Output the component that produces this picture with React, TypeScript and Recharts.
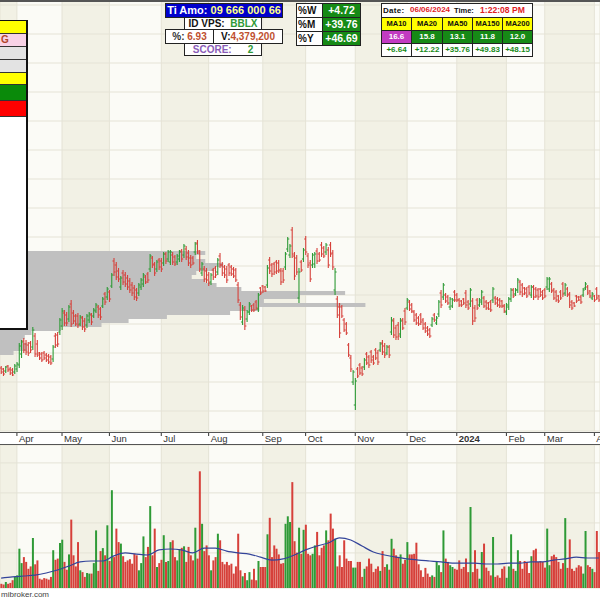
import React from 'react';
import { ComposedChart, Bar, Line, XAxis, YAxis, CartesianGrid, ReferenceArea, Cell } from 'recharts';

const FONT = 'Arial, "Liberation Sans", Helvetica, sans-serif';
const GREEN = '#2E9A36';
const RED = '#D6403A';
const GRID = '#E5E3D6';
const BAND_DARK = '#F2F1E5';
const BAND_LIGHT = '#FBFBF6';

// month ticks (bar index of first session) and labels
const monthIdx = [7, 27, 48, 71, 92, 116, 135, 157, 180, 202, 224, 241, 263];
const monthLabels = ['Apr', 'May', 'Jun', 'Jul', 'Aug', 'Sep', 'Oct', 'Nov', 'Dec', '2024', 'Feb', 'Mar', 'Apr'];

// price grid levels and volume grid levels
const priceGrid = [6.0, 7.45, 8.9, 10.35, 11.8, 13.25, 14.7, 16.15, 17.6, 19.05, 20.5, 21.95, 23.4, 24.85, 26.3];
const volGrid = [1.17, 2.17, 3.17, 4.17];

const highs = [8.25,8.15,8.25,8.30,8.20,8.15,8.35,8.45,9.40,9.55,
9.65,9.55,9.45,9.50,10.20,9.90,9.55,8.95,8.95,9.00,
8.90,8.85,8.80,9.30,9.90,9.95,10.65,11.15,11.05,10.95,
11.30,11.55,11.05,10.85,10.90,10.80,10.75,10.65,10.85,10.95,
10.90,11.15,11.40,11.30,11.20,11.70,11.95,12.20,12.05,12.90,
13.65,13.45,13.15,12.75,13.05,12.95,12.80,12.65,12.45,12.30,
12.15,12.40,12.65,12.90,12.80,12.95,13.85,13.75,13.45,13.55,
13.65,13.65,13.95,13.95,14.05,14.05,13.95,13.80,13.85,14.05,
14.10,14.35,14.25,14.05,13.80,13.75,14.45,14.55,14.05,13.45,
13.25,13.15,12.95,12.90,13.15,13.25,13.65,13.90,13.45,13.30,
13.25,13.40,13.30,13.20,13.15,12.45,11.45,11.30,11.25,11.05,
11.45,11.30,11.40,11.55,11.90,12.20,12.30,12.25,13.30,13.70,
13.40,13.45,13.55,13.55,13.15,13.15,13.95,14.70,14.35,15.20,
13.95,13.80,13.15,13.55,14.15,14.75,13.90,13.55,13.90,13.95,
14.15,13.95,14.45,14.25,14.40,14.20,14.45,14.05,13.15,11.75,
11.40,11.30,10.65,10.45,9.40,8.80,8.05,7.65,8.20,8.40,
8.25,8.65,8.95,8.80,9.05,8.80,9.15,9.05,9.45,9.55,
9.40,9.30,9.30,10.70,10.65,10.30,10.45,10.65,10.65,11.15,
11.65,11.55,11.40,11.05,10.90,10.75,10.90,10.65,10.45,10.25,
10.15,10.70,10.90,10.75,11.55,12.05,12.40,11.90,11.80,11.70,
11.65,12.05,11.90,11.65,11.55,11.65,12.05,11.55,12.15,11.65,
11.30,11.65,11.65,12.05,11.75,11.55,11.45,11.55,12.20,11.75,
11.70,11.65,11.55,11.35,11.40,11.70,12.15,12.15,12.15,12.65,
12.55,12.40,12.20,12.20,12.30,12.30,12.30,12.20,12.15,12.15,
12.05,12.15,12.70,12.70,12.45,12.15,12.05,11.80,12.05,12.45,
12.40,12.20,11.95,11.55,11.45,11.80,11.75,11.80,12.15,12.45,
12.30,12.05,11.95,11.80,12.20,11.80];

const lows = [7.85,7.75,7.90,7.95,7.80,7.75,7.85,7.95,8.15,8.65,
8.90,8.80,8.75,8.90,9.05,8.70,8.70,8.55,8.45,8.55,
8.45,8.35,8.30,8.45,9.15,9.20,9.80,10.05,10.25,10.25,
10.45,10.20,10.35,10.25,10.15,10.25,10.05,9.95,10.15,10.40,
10.30,10.65,10.90,10.65,10.55,11.15,11.30,11.55,11.45,12.15,
12.75,12.55,12.45,12.05,12.30,12.20,12.05,11.90,11.75,11.55,
11.50,11.75,12.05,12.20,12.35,12.40,12.95,13.15,12.75,12.95,
13.05,12.95,13.25,13.35,13.45,13.30,13.30,13.25,13.30,13.45,
13.45,13.65,13.55,13.25,13.15,13.30,13.80,13.85,12.95,12.75,
12.45,12.40,12.25,12.30,12.55,12.65,12.80,13.15,12.75,12.65,
12.40,12.75,12.75,12.65,12.45,11.40,10.55,10.30,10.05,10.45,
10.80,10.95,10.95,11.05,10.95,11.80,11.90,11.95,12.15,12.85,
12.70,12.80,12.85,12.90,12.30,12.40,13.05,13.95,13.65,13.65,
12.55,12.80,11.40,12.95,13.45,13.80,13.15,12.45,13.15,13.15,
13.35,13.45,13.70,13.65,13.80,13.15,13.70,13.05,11.80,10.65,
9.65,10.65,9.95,9.80,8.70,7.95,7.30,6.05,7.65,7.80,
7.75,8.05,8.30,8.15,8.40,8.30,8.55,8.30,8.95,8.80,
8.65,8.80,8.65,9.80,9.65,9.55,9.55,9.65,10.05,10.30,
11.05,11.00,10.90,10.45,10.30,10.25,10.30,10.05,9.90,9.75,
9.65,10.20,10.45,10.30,10.70,11.15,11.55,11.40,11.30,11.05,
11.15,11.45,11.45,11.20,11.20,11.30,11.15,11.05,11.20,10.30,
10.45,11.05,11.20,11.30,11.15,11.05,11.05,10.95,11.40,11.30,
11.20,11.15,11.15,10.90,10.80,11.05,11.45,11.65,11.75,11.90,
11.80,11.70,11.80,11.65,11.80,11.65,11.55,11.65,11.55,11.70,
11.55,11.65,12.05,11.95,11.90,11.55,11.45,11.40,11.55,11.70,
11.75,11.70,11.15,11.05,11.20,11.40,11.50,11.35,11.70,12.05,
11.80,11.65,11.55,11.45,11.55,11.45];

const opens = [8.15,8.10,8.00,8.25,8.10,8.05,7.95,8.10,8.30,8.85,
9.50,9.35,9.30,9.40,9.20,9.75,9.35,8.90,8.85,8.90,
8.80,8.75,8.70,8.60,9.75,9.80,9.95,10.25,10.90,10.80,
10.60,11.35,10.90,10.75,10.75,10.35,10.65,10.50,10.30,10.55,
10.80,10.75,11.00,11.20,11.10,11.25,11.85,11.70,11.95,12.25,
13.50,13.30,13.00,12.20,12.90,12.80,12.65,12.50,12.30,12.15,
12.05,11.90,12.20,12.35,12.70,12.85,13.10,13.65,13.35,13.10,
13.55,13.50,13.40,13.85,13.60,13.45,13.80,13.70,13.45,13.60,
14.00,13.80,14.10,13.90,13.65,13.65,13.95,14.40,13.90,12.90,
13.10,13.00,12.80,12.45,13.05,13.15,12.95,13.75,13.30,13.20,
13.10,13.30,13.20,13.10,13.05,12.30,11.30,10.45,11.05,10.60,
10.95,11.25,11.30,11.45,11.10,12.15,12.25,12.20,12.30,13.55,
13.30,13.35,13.45,13.40,13.00,13.00,13.20,14.10,13.80,15.05,
13.75,13.65,11.65,13.45,13.60,14.60,13.75,13.40,13.30,13.35,
14.00,13.85,14.30,14.15,13.95,14.05,14.30,13.90,12.05,11.60,
11.20,11.20,10.55,10.35,9.30,8.65,7.45,6.30,8.10,8.30,
8.15,8.20,8.85,8.70,8.95,8.70,9.05,8.90,9.05,9.40,
9.25,8.90,9.20,9.95,10.50,10.15,10.30,9.85,10.55,11.00,
11.15,11.45,11.30,10.95,10.80,10.65,10.80,10.55,10.35,10.15,
10.05,10.30,10.80,10.40,10.85,11.90,11.70,11.80,11.70,11.20,
11.25,11.95,11.80,11.55,11.50,11.60,11.90,11.45,11.35,11.50,
11.15,11.55,11.30,11.45,11.65,11.45,11.40,11.45,11.55,11.65,
11.60,11.55,11.50,11.25,10.95,11.20,11.60,12.05,11.85,12.05,
12.45,12.30,12.15,12.10,12.20,11.80,12.20,12.10,12.05,12.10,
11.95,12.05,12.20,12.10,12.35,12.05,11.95,11.75,11.95,12.35,
11.90,12.10,11.85,11.45,11.40,11.75,11.70,11.70,11.80,12.15,
12.20,12.00,11.65,11.75,12.10,11.75];

const closes = [7.95,7.85,8.20,8.05,7.90,7.80,8.25,8.35,9.25,9.45,
9.05,8.95,8.90,9.05,10.05,8.85,8.80,8.65,8.55,8.65,
8.55,8.45,8.40,9.20,9.30,9.35,10.55,11.00,10.40,10.40,
11.20,10.35,10.50,10.35,10.30,10.70,10.20,10.10,10.75,10.85,
10.45,11.05,11.30,10.80,10.70,11.60,11.45,12.10,11.60,12.80,
12.95,12.70,12.60,12.65,12.45,12.35,12.20,12.05,11.90,11.70,
11.65,12.30,12.55,12.80,12.45,12.55,13.75,13.30,12.90,13.45,
13.20,13.10,13.85,13.50,13.95,13.95,13.45,13.35,13.75,13.95,
13.60,14.25,13.70,13.40,13.30,13.40,14.35,14.00,13.10,13.35,
12.60,12.55,12.40,12.80,12.70,12.80,13.55,13.30,12.90,12.80,
12.55,12.90,12.85,12.75,12.55,11.55,10.70,11.15,10.25,10.95,
11.35,11.05,11.05,11.15,11.80,11.90,12.00,12.00,13.15,13.00,
12.85,12.95,13.00,13.05,12.45,12.55,13.85,14.60,14.25,13.85,
12.75,12.95,12.95,13.05,14.05,13.95,13.30,12.60,13.80,13.85,
13.50,13.55,13.85,13.75,14.30,13.30,13.85,13.20,12.95,10.80,
9.90,10.75,10.05,9.90,8.80,8.10,7.95,7.50,7.75,7.90,
7.85,8.55,8.40,8.30,8.55,8.40,8.65,8.45,9.35,8.95,
8.80,9.20,8.80,10.55,9.80,9.70,9.75,10.50,10.15,10.45,
11.55,11.10,11.00,10.55,10.40,10.35,10.45,10.15,10.00,9.85,
9.75,10.60,10.55,10.65,11.45,11.30,12.30,11.50,11.40,11.60,
11.55,11.55,11.55,11.30,11.30,11.40,11.30,11.15,12.05,10.50,
10.65,11.15,11.55,11.95,11.25,11.15,11.10,11.05,12.10,11.40,
11.30,11.25,11.25,11.00,11.30,11.60,12.05,11.75,12.05,12.55,
11.95,11.85,11.90,11.75,11.90,12.20,11.70,11.75,11.70,11.80,
11.65,11.75,12.60,12.60,12.00,11.65,11.55,11.50,11.65,11.85,
12.30,11.80,11.30,11.15,11.25,11.50,11.55,11.45,12.05,12.35,
11.90,11.75,11.85,11.55,11.65,11.55];

// volume in millions of shares
const volumes = [0.14,0.12,0.20,0.14,0.17,0.26,0.37,0.42,1.31,0.83,
1.03,0.87,0.64,0.72,1.67,0.79,0.92,0.31,0.28,0.33,
0.31,0.28,0.37,1.26,0.94,0.98,1.50,1.61,0.87,0.61,
1.12,2.28,1.09,0.72,1.53,0.59,0.53,0.37,0.50,0.48,
0.48,0.83,1.92,0.57,1.23,1.33,1.09,2.09,0.90,3.26,
1.03,1.98,1.53,1.48,1.06,0.87,0.92,0.96,0.81,1.14,
1.09,0.59,0.83,1.72,1.03,1.37,2.73,1.09,1.98,0.70,
0.83,0.94,1.76,0.87,0.90,1.53,1.59,1.03,0.92,1.28,
1.34,1.39,0.87,1.37,1.09,0.92,2.01,0.98,3.89,2.14,
1.23,1.42,1.09,0.59,0.92,1.03,1.81,1.59,0.87,0.79,
0.87,0.76,0.81,0.48,0.72,1.81,0.59,0.39,0.50,0.26,
0.53,0.28,0.64,0.26,0.90,0.70,0.70,0.70,1.79,2.34,
1.03,1.42,1.31,1.12,0.81,0.83,2.14,2.39,2.20,3.53,
1.56,1.18,2.01,1.14,1.94,2.11,1.14,1.09,1.14,1.42,
1.87,1.09,1.34,1.42,1.92,1.59,2.48,1.98,1.64,0.72,
1.09,0.70,1.59,0.98,0.90,0.90,0.68,0.68,0.87,0.87,
0.37,0.64,0.72,0.98,0.81,0.53,0.64,0.72,0.57,1.23,
0.70,0.79,0.61,1.64,1.31,1.09,1.03,1.12,0.81,0.94,
1.53,1.12,1.12,1.14,1.51,0.79,0.59,0.37,0.67,0.48,
0.37,0.42,0.37,0.87,0.76,0.53,1.92,0.98,0.87,0.76,
0.70,0.64,0.61,0.92,0.64,0.70,0.98,0.53,2.70,0.53,
1.26,0.64,0.31,1.20,1.48,0.68,0.57,0.42,1.70,0.37,
0.42,0.34,0.64,0.72,0.34,0.72,1.79,0.64,0.57,1.26,
0.90,0.64,0.90,0.87,0.50,1.06,1.26,1.31,0.87,0.90,
0.87,0.68,1.98,0.76,1.06,1.11,1.03,0.87,0.64,0.83,
2.33,0.67,1.62,0.64,0.57,0.68,0.76,0.72,0.48,1.90,
0.76,0.70,0.64,0.53,1.90,1.20];

// volume moving average, read every 5th session
const volumeMA = [0.33,0.37,0.40,0.43,0.50,0.60,0.73,0.87,0.90,0.90,
1.07,1.17,1.13,1.10,1.27,1.30,1.27,1.17,1.33,1.33,
1.23,1.17,1.13,1.03,0.93,0.97,1.10,1.27,1.40,1.50,
1.67,1.60,1.40,1.20,1.10,1.03,0.97,0.93,0.90,0.87,
0.83,0.83,0.83,0.80,0.80,0.83,0.83,0.87,0.87,0.93,
0.97,1.03,1.00,1.00];

// volume-at-price profile: bottom price of each 0.2 band and accumulated volume
const VP_STEP = 0.2;
const vpLow = [13.80,13.60,13.40,13.20,13.00,12.80,12.60,12.40,12.20,12.00,11.80,11.60,11.40,11.20,11.00,10.80,10.60,10.40,10.20,10.00,9.80,9.60,9.40,9.20,9.00,8.80];
const vpVol = [205,195,205,222,212,195,190,205,215,240,345,300,262,365,258,230,165,128,100,58,30,22,20,26,24,12];
// the largest profile row spans this many sessions (profile width as a share of the chart)
const VP_SPAN_BARS = 161;
const vpMax = Math.max(...vpVol);

const data = highs.map((h, i) => ({
  i,
  h,
  l: lows[i],
  o: opens[i],
  c: closes[i],
  v: volumes[i],
  vma: i % 5 === 0 ? volumeMA[i / 5] : null,
}));

const Candle = (props: any) => {
  const { x, y, width, height, payload } = props;
  if (!payload || x == null) return null;
  const top = Math.min(y, y + height);
  const bot = Math.max(y, y + height);
  const { o, h, l, c } = payload;
  const span = h - l || 1;
  const py = (p: number) => top + ((h - p) / span) * (bot - top);
  const cx = x + width / 2;
  const col = c >= o ? GREEN : RED;
  return (
    <g>
      <line x1={cx} x2={cx} y1={top} y2={bot} stroke={col} strokeWidth={1.1} />
      <line x1={cx - 1.6} x2={cx} y1={py(o)} y2={py(o)} stroke={col} strokeWidth={1} />
      <line x1={cx} x2={cx + 1.6} y1={py(c)} y2={py(c)} stroke={col} strokeWidth={1} />
    </g>
  );
};

const MonthTick = (props: any) => {
  const { x, y, payload } = props;
  const k = monthIdx.indexOf(payload.value);
  const label = k >= 0 ? monthLabels[k] : '';
  return (
    <g>
      <line x1={x} x2={x} y1={y + 2} y2={y + 5} stroke="#333" strokeWidth={1} />
      <text x={x + 2} y={y + 10.5} fontSize={9.5} fontFamily={FONT} fill="#333" fontWeight={label === '2024' ? 'bold' : 'normal'}>
        {label}
      </text>
    </g>
  );
};

const box = (l: number, t: number, w: number, h: number, bg: string, extra: any = {}) => ({
  position: 'absolute' as const,
  left: l,
  top: t,
  width: w,
  height: h,
  background: bg,
  border: '1px solid #222',
  boxSizing: 'border-box' as const,
  display: 'flex',
  alignItems: 'center',
  justifyContent: 'center',
  fontFamily: FONT,
  fontWeight: 'bold' as const,
  fontSize: 10,
  whiteSpace: 'nowrap' as const,
  overflow: 'hidden',
  lineHeight: 1,
  ...extra,
});

const abs = (l: number, t: number, extra: any = {}) => ({
  position: 'absolute' as const,
  left: l,
  top: t,
  fontFamily: FONT,
  fontWeight: 'bold' as const,
  whiteSpace: 'nowrap' as const,
  lineHeight: 1,
  ...extra,
});

const perfLabels = ['%W', '%M', '%Y'];
const perfValues = ['+4.72', '+39.76', '+46.69'];
const maLabels = ['MA10', 'MA20', 'MA50', 'MA150', 'MA200'];
const maValues = ['16.6', '15.8', '13.1', '11.8', '12.0'];
const maChanges = ['+6.64', '+12.22', '+35.76', '+49.83', '+48.15'];
const maCellX = [381, 411, 442, 472, 502];
const maCellW = [31, 32, 31, 31, 31];

const leftRows = [
  { h: 13, bg: '#FFFF00', t: '' },
  { h: 13, bg: '#F8D2E6', t: 'G' },
  { h: 13, bg: '#E3E3E3', t: '' },
  { h: 13, bg: '#E3E3E3', t: '' },
  { h: 12, bg: '#FFFF00', t: '' },
  { h: 16, bg: '#0A8A0A', t: '' },
  { h: 16, bg: '#FF0000', t: '' },
];

export default function App() {
  return (
    <div style={{ position: 'absolute', left: 0, top: 0, width: 600, height: 600, overflow: 'hidden', background: BAND_LIGHT, fontFamily: FONT }}>
      {/* axis strip */}
      <div style={{ position: 'absolute', left: 0, top: 432, width: 600, height: 13, background: '#FFFFFF', borderTop: '1.5px solid #555', borderBottom: '1.5px solid #555', boxSizing: 'border-box' }} />
      {/* bottom strip */}
      <div style={{ position: 'absolute', left: 0, top: 588, width: 600, height: 12, background: '#FFFFFF' }} />

      <div style={{ position: 'absolute', left: 0, top: 0 }}>
        <ComposedChart width={600} height={445} data={data} margin={{ top: 0, right: 0, bottom: 0, left: 0 }} barCategoryGap="10%">
          <CartesianGrid stroke={GRID} verticalFill={[BAND_DARK, BAND_LIGHT]} fillOpacity={1} />
          <XAxis dataKey="i" type="category" ticks={monthIdx} interval={0} height={14} axisLine={false} tickLine={false} tickSize={0} tickMargin={0} tick={(p: any) => <MonthTick {...p} />} />
          <YAxis hide type="number" domain={[5, 26.55]} ticks={priceGrid} allowDataOverflow />
          {vpLow.map((lo, k) => (
            <ReferenceArea key={k} x1={0} x2={Math.round((vpVol[k] / vpMax) * VP_SPAN_BARS)} y1={lo} y2={lo + VP_STEP} fill="#C0C0C0" fillOpacity={1} stroke="none" ifOverflow="visible" />
          ))}
          <Bar dataKey={(d: any) => [d.l, d.h]} shape={(p: any) => <Candle {...p} />} isAnimationActive={false} />
        </ComposedChart>
      </div>

      <div style={{ position: 'absolute', left: 0, top: 445 }}>
        <ComposedChart width={600} height={155} data={data} margin={{ top: 0, right: 0, bottom: 12, left: 0 }} barCategoryGap="15%">
          <CartesianGrid stroke={GRID} verticalFill={[BAND_DARK, BAND_LIGHT]} fillOpacity={1} />
          <XAxis dataKey="i" type="category" ticks={monthIdx} interval={0} hide />
          <YAxis hide type="number" domain={[0, 4.767]} ticks={volGrid} allowDataOverflow />
          <Bar dataKey="v" isAnimationActive={false}>
            {data.map((d, k) => (
              <Cell key={k} fill={d.c >= d.o ? GREEN : RED} />
            ))}
          </Bar>
          <Line dataKey="vma" type="monotone" stroke="#33449A" strokeWidth={1.2} dot={false} connectNulls isAnimationActive={false} />
        </ComposedChart>
      </div>

      <div style={{ position: 'absolute', left: 1, top: 590, fontSize: 8, color: '#444', fontFamily: FONT }}>mibroker.com</div>

      {/* top border */}
      <div style={{ position: 'absolute', left: 0, top: 0, width: 600, height: 1.5, background: '#555' }} />

      {/* left info panel */}
      <div style={{ position: 'absolute', left: 0, top: 20, width: 28, height: 310, background: '#FFFFFF', borderRight: '2px solid #111', borderBottom: '2px solid #111', borderTop: '1px solid #111', boxSizing: 'border-box' }}>
        {leftRows.map((r, k) => (
          <div key={k} style={{ height: r.h, background: r.bg, borderBottom: '1px solid #333', boxSizing: 'border-box', fontFamily: FONT, fontWeight: 'bold', fontSize: 10, color: '#B0442A', lineHeight: `${r.h - 1}px`, paddingLeft: 1 }}>
            {r.t}
          </div>
        ))}
      </div>

      {/* header boxes */}
      <div style={box(165, 3, 118, 15, '#0000CC', { fontSize: 11 })}>
        <span style={{ color: '#FFFFFF' }}>Ti Amo:&nbsp;</span>
        <span style={{ color: '#FFFF88' }}>09 666 000 66</span>
      </div>
      <div style={box(184, 17, 78, 13, '#FFFFFF')}>
        <span style={{ color: '#111' }}>ID VPS:&nbsp;&nbsp;</span>
        <span style={{ color: GREEN }}>BBLX</span>
      </div>
      <div style={box(165, 29, 49, 15, '#FFFFFF')}>
        <span style={{ color: '#333' }}>%:&nbsp;</span>
        <span style={{ color: '#C0502F' }}>6.93</span>
      </div>
      <div style={box(213, 29, 70, 15, '#FFFFFF')}>
        <span style={{ color: '#111' }}>V:</span>
        <span style={{ color: '#C0502F' }}>4,379,200</span>
      </div>
      <div style={box(184, 43, 78, 13, '#FFFFFF')}>
        <span style={{ color: '#8A5CB8' }}>SCORE:</span>
        <span style={{ color: GREEN, marginLeft: 16 }}>2</span>
      </div>

      {perfLabels.map((lab, k) => (
        <React.Fragment key={lab}>
          <div style={box(296, 3 + k * 14, 27, 15, '#FFFFFF', { justifyContent: 'flex-start', paddingLeft: 1, color: '#111' })}>{lab}</div>
          <div style={box(322, 3 + k * 14, 39, 15, '#168A16', { color: '#FFFFFF', fontSize: 10.5 })}>{perfValues[k]}</div>
        </React.Fragment>
      ))}

      {/* date / MA table */}
      <div style={box(381, 3, 152, 15, '#FFFFFF')} />
      <div style={abs(383, 7, { fontSize: 8, color: '#111', letterSpacing: 0.3 })}>Date:</div>
      <div style={abs(410, 6, { fontSize: 8, color: '#E0201F' })}>06/06/2024</div>
      <div style={abs(454, 7, { fontSize: 7.5, color: '#111' })}>Time:</div>
      <div style={abs(480, 6, { fontSize: 8.6, color: '#E0201F' })}>1:22:08 PM</div>
      {maLabels.map((lab, k) => (
        <React.Fragment key={lab}>
          <div style={box(maCellX[k], 17, maCellW[k], 14, '#FFFF00', { color: '#111', fontSize: 7.5 })}>{lab}</div>
          <div style={box(maCellX[k], 30, maCellW[k], 14, k === 0 ? '#C23BC2' : '#168A16', { color: '#FFFFFF', fontSize: 8 })}>{maValues[k]}</div>
          <div style={box(maCellX[k], 43, maCellW[k], 14, '#FFFFFF', { color: '#168A16', fontSize: 8 })}>{maChanges[k]}</div>
        </React.Fragment>
      ))}
    </div>
  );
}
